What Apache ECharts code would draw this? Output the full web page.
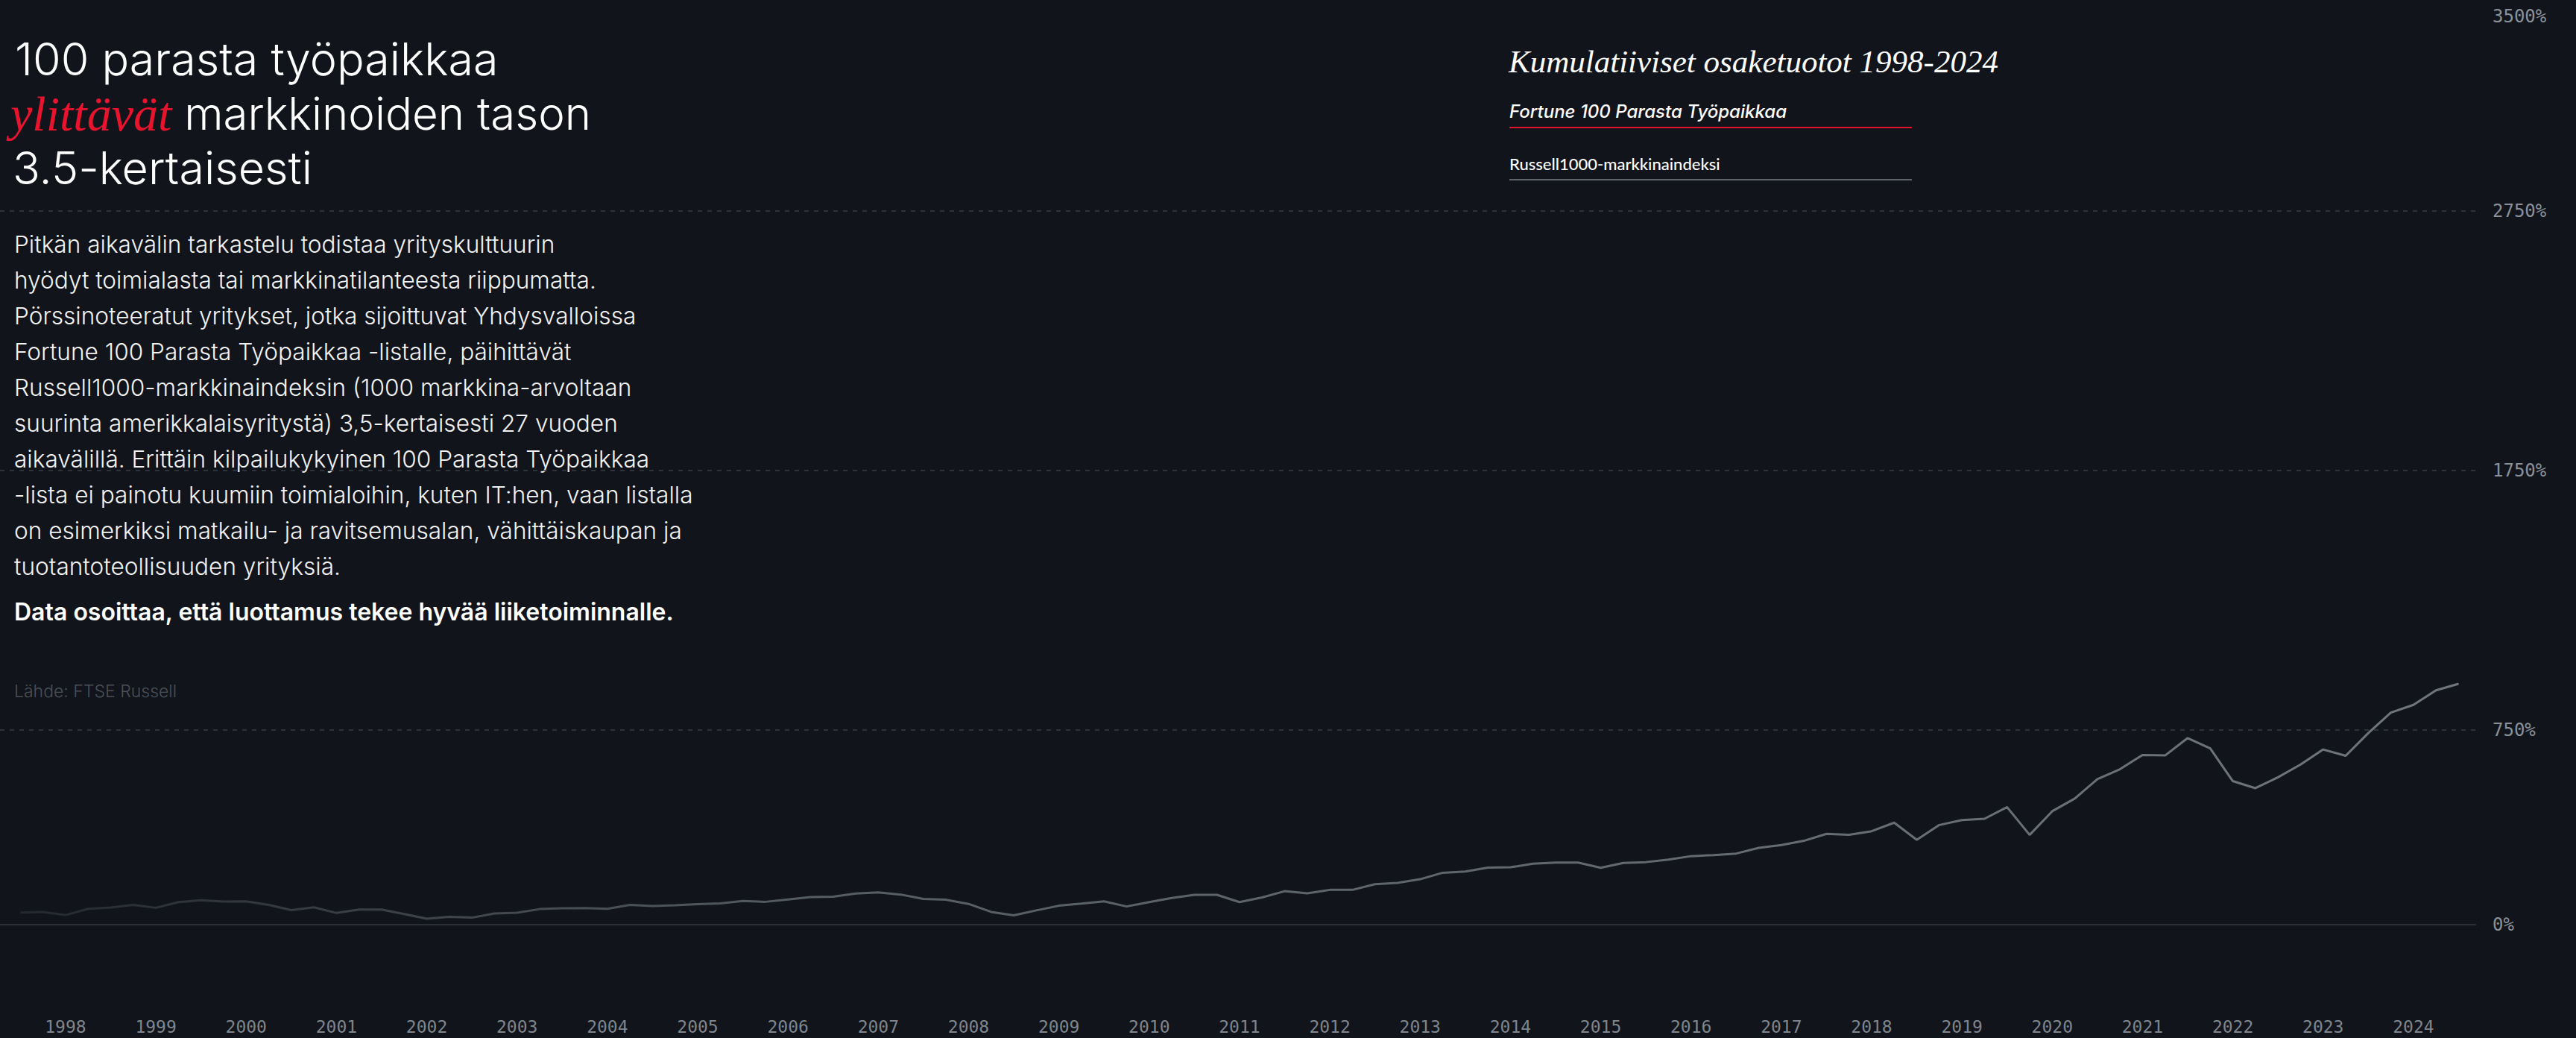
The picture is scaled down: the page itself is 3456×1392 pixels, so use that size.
<!DOCTYPE html>
<html><head><meta charset="utf-8">
<script src="https://cdn.jsdelivr.net/npm/echarts@6/dist/echarts.min.js"></script>
<style>html,body{margin:0;padding:0;background:#11141b;}#c{width:3456px;height:1392px;}</style>
</head><body><div id="c"></div>
<script>
// ---- data ----
const startYear = 1998;          // first quarterly observation
const pointsPerYear = 4;         // quarterly series
const russellReturns = [
  47, 49, 37, 61, 66, 76, 65, 87, 94, 89, 90, 76, 56, 67, 45, 58,
  58, 41, 23, 30, 27, 43, 46, 60, 63, 64, 61, 76, 72, 75, 79, 82,
  91, 88, 97, 106, 108, 120, 124, 116, 99, 96, 80, 49, 36, 55, 73, 81,
  90, 70, 87, 103, 115, 115, 87, 105, 129, 121, 134, 134, 156, 161, 175, 200,
  205, 220, 221, 235, 239, 239, 219, 238, 241, 251, 264, 268, 274, 296, 307, 323,
  350, 346, 360, 393, 327, 384, 403, 408, 453, 346, 437, 486, 561, 599, 654, 652,
  719, 679, 553, 526, 568, 617, 675, 651, 738, 817, 847, 903, 928
];
const yearLabels = [1998,1999,2000,2001,2002,2003,2004,2005,2006,2007,2008,2009,2010,
  2011,2012,2013,2014,2015,2016,2017,2018,2019,2020,2021,2022,2023,2024];
const yTickValues = [0, 750, 1750, 2750, 3500];
const yGridValues = [750, 1750, 2750];
const seriesNames = ['Fortune 100 Parasta Työpaikkaa', 'Russell1000-markkinaindeksi'];
const titleLines = ['100 parasta työpaikkaa', 'ylittävät', ' markkinoiden tason', '3.5-kertaisesti'];
const bodyLines = [
  'Pitkän aikavälin tarkastelu todistaa yrityskulttuurin',
  'hyödyt toimialasta tai markkinatilanteesta riippumatta.',
  'Pörssinoteeratut yritykset, jotka sijoittuvat Yhdysvalloissa',
  'Fortune 100 Parasta Työpaikkaa -listalle, päihittävät',
  'Russell1000-markkinaindeksin (1000 markkina-arvoltaan',
  'suurinta amerikkalaisyritystä) 3,5-kertaisesti 27 vuoden',
  'aikavälillä. Erittäin kilpailukykyinen 100 Parasta Työpaikkaa',
  '-lista ei painotu kuumiin toimialoihin, kuten IT:hen, vaan listalla',
  'on esimerkiksi matkailu- ja ravitsemusalan, vähittäiskaupan ja',
  'tuotantoteollisuuden yrityksiä.'
];
const boldLine = 'Data osoittaa, että luottamus tekee hyvää liiketoiminnalle.';
const sourceLine = 'Lähde: FTSE Russell';
const legendTitle = 'Kumulatiiviset osaketuotot 1998-2024';

// ---- chart ----
const russellData = russellReturns.map((v, i) => [startYear + i / pointsPerYear, v]);
const chart = echarts.init(document.getElementById('c'), null, {renderer: 'svg'});
const SANS = 'Inter, "Noto Sans", sans-serif';
const LATO = 'Lato, "Noto Sans", sans-serif';
const MONO = '"DejaVu Sans Mono", monospace';
chart.setOption({
  backgroundColor: '#11141b',
  animation: false,
  grid: {left: 0, right: 135, top: 22, bottom: 152, containLabel: false},
  xAxis: {
    type: 'value', min: 1997.774, max: 2025.186,
    axisLine: {show: true, onZero: true, lineStyle: {color: '#2b2f36', width: 2}},
    axisTick: {show: false},
    splitLine: {show: false},
    axisLabel: {
      customValues: yearLabels.map(y => y + 0.5),
      formatter: v => String(Math.floor(v)),
      margin: 137, verticalAlign: 'middle', lineHeight: 22,
      color: '#7e858c', fontFamily: MONO, fontSize: 23
    }
  },
  yAxis: {
    type: 'value', position: 'right', min: 0, max: 3500,
    axisLine: {show: false}, axisTick: {show: false}, splitLine: {show: false},
    axisLabel: {
      customValues: yTickValues,
      formatter: v => v + '%',
      margin: 23, align: 'left', lineHeight: 24,
      color: '#8a9198', fontFamily: MONO, fontSize: 24
    }
  },
  series: [{
    name: seriesNames[1],
    type: 'line',
    data: russellData,
    showSymbol: false,
    lineStyle: {
      width: 3,
      color: new echarts.graphic.LinearGradient(0, 0, 1, 0, [
        {offset: 0, color: '#24282f'},
        {offset: 0.32, color: '#565c63'},
        {offset: 1, color: '#70767c'}
      ])
    },
    markLine: {
      silent: true, symbol: 'none', label: {show: false},
      lineStyle: {color: '#393e46', type: [6, 7], width: 1.5},
      data: yGridValues.map(v => ({yAxis: v}))
    },
    z: 3
  }],
  graphic: [
    {type: 'text', x: 20, y: 79, style: {text: titleLines[0], font: '300 61px ' + SANS, fill: '#ffffff', verticalAlign: 'middle'}},
    {type: 'text', x: 14, y: 152, style: {
      text: '{r|' + titleLines[1] + '}{a|' + titleLines[2] + '}', verticalAlign: 'middle',
      rich: {
        r: {fontFamily: '"Liberation Serif", serif', fontStyle: 'italic', fontSize: 66, fill: '#e8142e', color: '#e8142e'},
        a: {fontFamily: SANS, fontWeight: 300, fontSize: 60, fill: '#ffffff', color: '#ffffff'}
      }
    }},
    {type: 'text', x: 17, y: 225, style: {text: titleLines[3], font: '300 61px ' + SANS, fill: '#ffffff', verticalAlign: 'middle'}},
    {type: 'text', x: 19, y: 303, style: {text: bodyLines.join('\n'), font: '300 31.6px ' + SANS, lineHeight: 48, fill: '#f2f2f2', verticalAlign: 'top'}},
    {type: 'text', x: 19, y: 820, style: {text: boldLine, font: '600 32px ' + SANS, fill: '#ffffff', verticalAlign: 'middle'}},
    {type: 'text', x: 19, y: 927, style: {text: sourceLine, font: '300 23px ' + SANS, fill: '#4b5058', verticalAlign: 'middle'}},
    {type: 'text', x: 2024, y: 82, style: {text: legendTitle, font: 'italic 43px "Liberation Serif", serif', fill: '#ffffff', verticalAlign: 'middle'}},
    {type: 'text', x: 2025, y: 149, style: {text: seriesNames[0], font: 'italic 500 24px ' + SANS, fill: '#ffffff', verticalAlign: 'middle'}},
    {type: 'line', shape: {x1: 2025, y1: 171, x2: 2565, y2: 171}, style: {stroke: '#e5102b', lineWidth: 2}},
    {type: 'text', x: 2025, y: 219, style: {text: seriesNames[1], font: '500 22px ' + LATO, fill: '#ffffff', verticalAlign: 'middle'}},
    {type: 'line', shape: {x1: 2025, y1: 241, x2: 2565, y2: 241}, style: {stroke: '#5f646b', lineWidth: 2}}
  ]
});
</script></body></html>
